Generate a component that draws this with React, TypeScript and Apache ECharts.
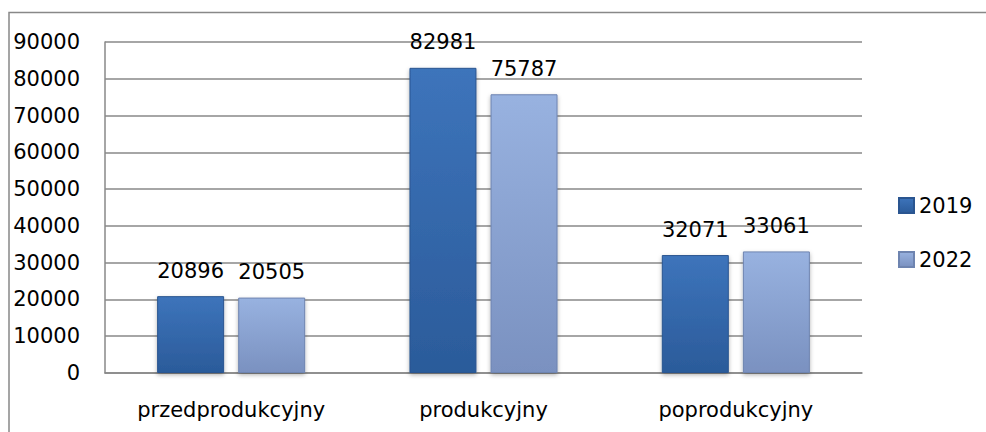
import React, { useEffect, useRef } from "react";
import * as echarts from "echarts";

const categories = ["przedprodukcyjny", "produkcyjny", "poprodukcyjny"];
const seriesNames = ["2019", "2022"];
const values2019 = [20896, 82981, 32071];
const values2022 = [20505, 75787, 33061];
const yTicks = { min: 0, max: 90000, interval: 10000 };

const FONT = "DejaVu Sans";

export default function App() {
  const ref = useRef<HTMLDivElement>(null);
  useEffect(() => {
    if (!ref.current) return;
    const chart = echarts.init(ref.current, null, { renderer: "svg" });
    const grad = (top: string, bot: string) =>
      new echarts.graphic.LinearGradient(0, 0, 0, 1, [
        { offset: 0, color: top },
        { offset: 1, color: bot },
      ]);
    const labelCfg = {
      show: true,
      position: "top" as const,
      distance: 15,
      color: "#000",
      fontFamily: FONT,
      fontSize: 21,
    };
    chart.setOption({
      animation: false,
      backgroundColor: "#fff",
      graphic: [
        {
          type: "polyline",
          shape: { points: [[9, 432], [9, 12.5], [986, 12.5]] },
          style: { stroke: "#888", lineWidth: 1.5, fill: "none" },
          silent: true,
        },
      ],
      grid: { left: 105, top: 42, right: 124, bottom: 59 },
      legend: {
        orient: "vertical",
        left: 898,
        top: 195,
        padding: 0,
        itemWidth: 15,
        itemHeight: 15,
        itemGap: 33,
        icon: "rect",
        textStyle: { fontFamily: FONT, fontSize: 21, color: "#000" },
        data: seriesNames,
      },
      xAxis: {
        type: "category",
        data: categories,
        axisLine: { show: true, lineStyle: { color: "#888", width: 1.5 } },
        axisTick: { show: false },
        axisLabel: { color: "#000", fontFamily: FONT, fontSize: 21, margin: 26 },
      },
      yAxis: {
        type: "value",
        min: yTicks.min,
        max: yTicks.max,
        interval: yTicks.interval,
        axisLine: { show: true, lineStyle: { color: "#888", width: 1.5 } },
        axisTick: { show: false },
        splitLine: { show: true, lineStyle: { color: "#888", width: 1.5 } },
        axisLabel: {
          color: "#000",
          fontFamily: FONT,
          fontSize: 21,
          margin: 25,
          formatter: (v: number) => String(v),
        },
      },
      series: [
        {
          name: seriesNames[0],
          type: "bar",
          data: values2019,
          barWidth: 67,
          barGap: "21%",
          itemStyle: {
            color: grad("#3d74bb", "#2b5b9a"),
            borderColor: "#2a5590",
            borderWidth: 1,
            shadowColor: "rgba(0,0,0,0.3)",
            shadowBlur: 4,
            shadowOffsetY: 2,
          },
          label: labelCfg,
        },
        {
          name: seriesNames[1],
          type: "bar",
          data: values2022,
          barWidth: 67,
          barGap: "21%",
          itemStyle: {
            color: grad("#98b2e0", "#7a91c0"),
            borderColor: "#6e84b0",
            borderWidth: 1,
            shadowColor: "rgba(0,0,0,0.3)",
            shadowBlur: 4,
            shadowOffsetY: 2,
          },
          label: labelCfg,
        },
      ],
    });
    return () => chart.dispose();
  }, []);
  return (
    <div
      ref={ref}
      style={{ position: "absolute", left: 0, top: 0, width: 986, height: 432 }}
    />
  );
}
